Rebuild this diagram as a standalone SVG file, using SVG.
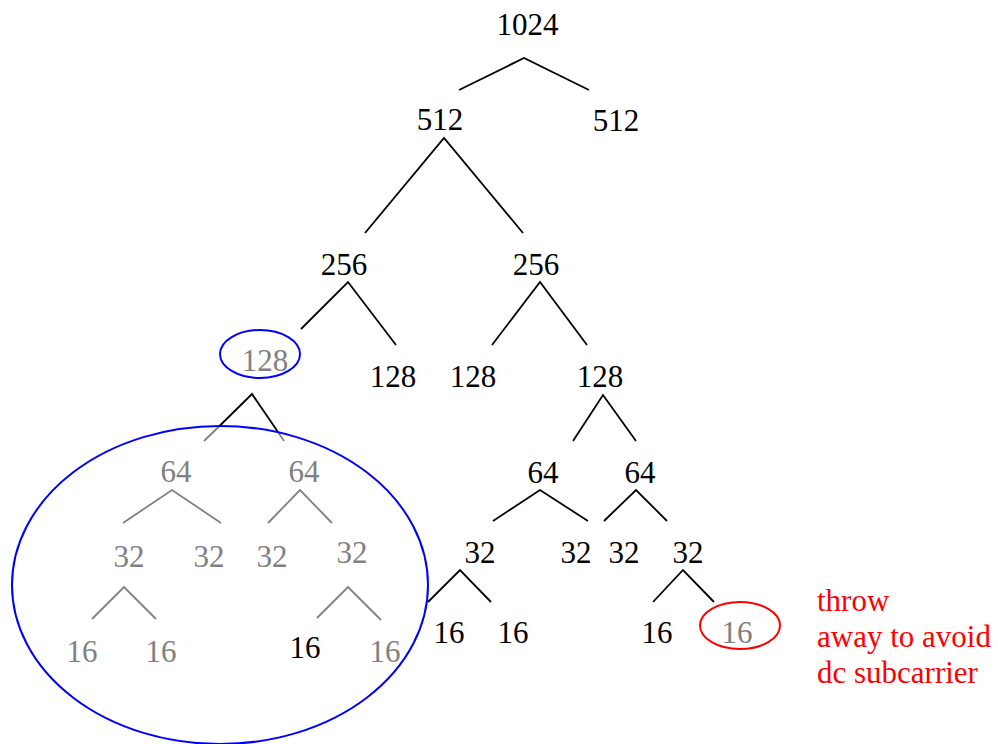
<svg xmlns="http://www.w3.org/2000/svg" width="998" height="744" viewBox="0 0 998 744">
<style>
text{font-family:"Liberation Serif","Times New Roman",serif;font-size:31px;text-anchor:middle}
.k{fill:#000}
.g{fill:#808080}
.r{fill:#ff0000;text-anchor:start}
.lk{stroke:#000;stroke-width:1.8;fill:none}
.lg{stroke:#808080;stroke-width:1.8;fill:none}
.eb{stroke:#0000ff;stroke-width:2;fill:none}
.er{stroke:#ff0000;stroke-width:2;fill:none}
</style>
<rect width="998" height="744" fill="#fff"/>
<g id="connectors">
<polyline class="lk" points="459,90 524,58 589,90"/>
<polyline class="lk" points="365,233 444,138 523,233"/>
<polyline class="lk" points="301,329 348,282 396,345"/>
<polyline class="lk" points="492,345 540,282 587,345"/>
<polyline class="lk" points="219.5,426 252,394 278,432"/>
<line class="lg" x1="219.5" y1="426" x2="204" y2="441"/>
<line class="lg" x1="278" y1="432" x2="284" y2="441"/>
<polyline class="lk" points="573,441 603,395 636,441"/>
<polyline class="lg" points="123,523 172,490 221,523"/>
<polyline class="lg" points="268,523 300,490 332,523"/>
<polyline class="lk" points="493,521 540,490 588,521"/>
<polyline class="lk" points="604,521 636,490 667,521"/>
<polyline class="lg" points="92,619 124,587 156,619"/>
<polyline class="lg" points="317,618 348,587 381,620"/>
<polyline class="lk" points="428,602 460,570 491,602"/>
<polyline class="lk" points="653,602 683,570 714,602"/>
</g>
<g id="n1024"><text class="k" x="527.5" y="35">1024</text></g>
<g id="n512a"><text class="k" x="440" y="130">512</text></g>
<g id="n512b"><text class="k" x="616" y="131">512</text></g>
<g id="n256a"><text class="k" x="344" y="275">256</text></g>
<g id="n256b"><text class="k" x="536" y="275">256</text></g>
<g id="n128a"><ellipse class="eb" cx="260" cy="354" rx="40" ry="24"/><text class="g" x="265" y="371">128</text></g>
<g id="n128b"><text class="k" x="393" y="387">128</text></g>
<g id="n128c"><text class="k" x="473" y="387">128</text></g>
<g id="n128d"><text class="k" x="600" y="387">128</text></g>
<g id="subtree"><ellipse class="eb" cx="220" cy="585" rx="208" ry="159"/></g>
<g id="n64a"><text class="g" x="176" y="482">64</text></g>
<g id="n64b"><text class="g" x="304" y="482">64</text></g>
<g id="n64c"><text class="k" x="543" y="483">64</text></g>
<g id="n64d"><text class="k" x="640" y="483">64</text></g>
<g id="n32a"><text class="g" x="129" y="567">32</text></g>
<g id="n32b"><text class="g" x="209" y="567">32</text></g>
<g id="n32c"><text class="g" x="272" y="567">32</text></g>
<g id="n32d"><text class="g" x="352" y="563">32</text></g>
<g id="n32e"><text class="k" x="480" y="563">32</text></g>
<g id="n32f"><text class="k" x="576" y="563">32</text></g>
<g id="n32g"><text class="k" x="624" y="563">32</text></g>
<g id="n32h"><text class="k" x="688" y="563">32</text></g>
<g id="n16a"><text class="g" x="82" y="662">16</text></g>
<g id="n16b"><text class="g" x="161" y="662">16</text></g>
<g id="n16c"><text class="k" x="305" y="658">16</text></g>
<g id="n16d"><text class="g" x="385" y="662">16</text></g>
<g id="n16e"><text class="k" x="449" y="643">16</text></g>
<g id="n16f"><text class="k" x="513" y="643">16</text></g>
<g id="n16g"><text class="k" x="657" y="643">16</text></g>
<g id="n16h"><ellipse class="er" cx="740" cy="625.5" rx="40" ry="23.5"/><text class="g" x="737" y="643">16</text></g>
<g id="note">
<text class="r" x="817" y="611">throw</text>
<text class="r" x="817" y="647">away to avoid</text>
<text class="r" x="817" y="683">dc subcarrier</text>
</g>
</svg>
